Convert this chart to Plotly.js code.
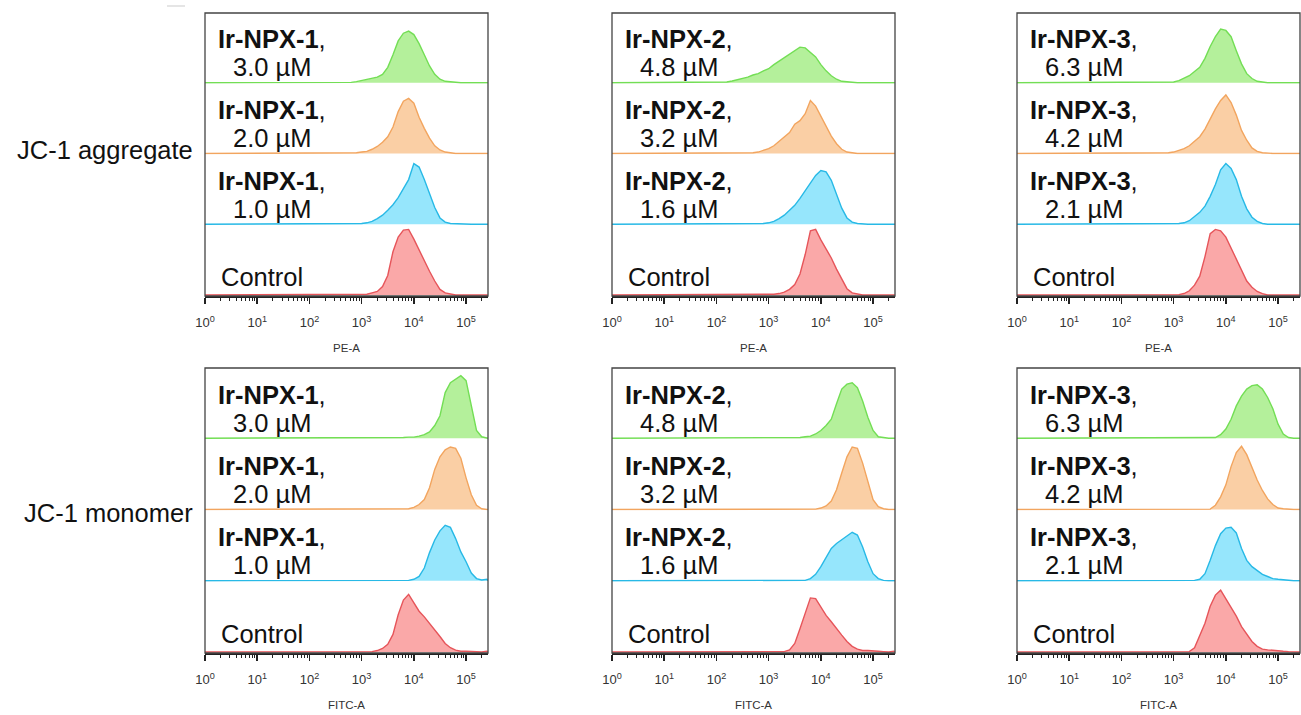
<!DOCTYPE html>
<html>
<head>
<meta charset="utf-8">
<script src="https://cdn.plot.ly/plotly-3.0.1.min.js"></script>
<style>html,body{margin:0;padding:0;background:#fff;}#chart{width:1301px;height:715px;}</style>
</head>
<body>
<div id="chart"></div>
<script>
// ---------- DATA ----------
// fluorescence intensity grid (a.u.)
const XS = [1,100,126,158,200,251,316,398,501,631,794,1000,1259,1585,1995,2512,3162,3981,5012,6310,7943,
  10000,12589,15849,19953,25119,31623,39811,50119,63096,79433,100000,125893,158489,199526,251189,262144];

const CHANNELS = ['PE-A', 'FITC-A'];
const ROW_LABELS = ['JC-1 aggregate', 'JC-1 monomer'];
const COMPOUNDS = ['Ir-NPX-1', 'Ir-NPX-2', 'Ir-NPX-3'];
const DOSES = [['3.0 µM', '2.0 µM', '1.0 µM'], ['4.8 µM', '3.2 µM', '1.6 µM'], ['6.3 µM', '4.2 µM', '2.1 µM']];
const CONTROL_LABEL = 'Control';
const TICK_VALS = [1, 10, 100, 1000, 10000, 100000];
const TICK_TEXT = ['10<sup>0</sup>', '10<sup>1</sup>', '10<sup>2</sup>', '10<sup>3</sup>', '10<sup>4</sup>', '10<sup>5</sup>'];

// counts, % of row height (JC-1 aggregate, PE-A)
const PE_NPX1_HIGH = [0, 0,0,0,0,0,0,0,0,0.5,1.5, 3,4,6,8,12,22,40,60,71,74, 69,56,40,24,12,5,2,1,0.5,0, 0,0,0,0,0, 0];
const PE_NPX1_MID  = [0, 0,0,0,0,0,0,0,0,0.5,1, 2,3,6,10,16,24,38,60,75,79, 72,52,36,22,11,5,2,0.5,0,0, 0,0,0,0,0, 0];
const PE_NPX1_LOW  = [0, 0,0,0,0,0,0,0,0,0,0.5, 1,2,4,8,13,20,28,38,50,64, 87,82,64,43,24,9,3,1,0.5,0, 0,0,0,0,0, 0];
const PE_NPX1_CTRL = [0, 0,0,0,0,0,0,0,0,0,0, 0.5,1,3,5,12,28,62,83,93,94, 80,64,49,34,20,8,3,1,0,0, 0,0,0,0,0, 0];

const PE_NPX2_HIGH = [0, 0,0,1,2.5,4,6,8,11,13,17, 20,26,31,36,42,46,51,50,44,37, 26,17,10,5,2,1,0.5,0,0,0, 0,0,0,0,0, 0];
const PE_NPX2_MID  = [0, 0,0,0,0,0,0,0.5,1,2,4, 7,11,17,23,30,42,47,57,76,68, 53,38,25,14,6,2,0.5,0,0,0, 0,0,0,0,0, 0];
const PE_NPX2_LOW  = [0, 0,0,0,0,0,0,0,0,0.5,1, 2,4,8,13,20,27,37,48,58,70, 77,75,63,43,23,9,3,1,0,0, 0,0,0,0,0, 0];
const PE_NPX2_CTRL = [0, 0,0,0,0,0,0,0,0,0,0, 0,1,2,4,8,15,30,58,92,94, 79,67,53,37,22,9,3,1,0,0, 0,0,0,0,0, 0];

const PE_NPX3_HIGH = [0, 0,0,0,0,0,0,0,0,0,0.5, 1,3,6,10,16,22,35,52,66,77, 75,66,46,27,13,6,2,0.5,0,0, 0,0,0,0,0, 0];
const PE_NPX3_MID  = [0, 0,0,0,0,0,0,0,0,0.5,1, 2,4,7,11,18,24,35,50,64,76, 84,73,55,33,19,8,3,1,0,0, 0,0,0,0,0, 0];
const PE_NPX3_LOW  = [0, 0,0,0,0,0,0,0,0,0,0, 0.5,1,2,5,11,17,26,40,57,78, 87,80,64,40,22,10,4,1,0,0, 0,0,0,0,0, 0];
const PE_NPX3_CTRL = [0, 0,0,0,0,0,0,0,0,0,0, 0,0.5,2,6,14,27,55,88,94,92, 83,67,51,34,20,11,5,2,0,0, 0,0,0,0,0, 0];

// counts, % of row height (JC-1 monomer, FITC-A)
const FITC_NPX1_HIGH = [0, 0,0,0,0,0,0,0,0,0,1, 1,1,0.5,0.5,0.5,0.5,1,1,1,1.5, 1.5,3,5,9,18,32,65,79,84,89, 82,46,11,2,0.5, 0];
const FITC_NPX1_MID  = [0, 0,0,0,0,0,0,0,0,0,0, 0,0,0,0,0,0,0,0,0.5,1, 3,7,14,31,57,75,85,89,87,73, 45,21,6,1,0, 0];
const FITC_NPX1_LOW  = [0, 0,0,0,0,0,0,0,0,0,0, 0,0,0,1,0.5,0,0,0,0,0.5, 2,6,18,40,58,71,79,76,60,41, 27,11,3,1,2, 0];
const FITC_NPX1_CTRL = [0, 0,0,0,0,0,0,0,0,0,0, 0,0,0.5,2,5,11,25,53,74,82, 70,58,50,41,32,22,12,6,2.5,1, 1,0.5,0,0,1, 0];

const FITC_NPX2_HIGH = [0, 0,0,0,0,0,0,1,1,0.5,0, 0,0,0,0,0,0.5,1,2,3,6, 11,18,27,49,70,77,79,72,53,30, 11,2,0.5,0,0, 0];
const FITC_NPX2_MID  = [0, 0,0,0,0,0,0,0,0,0,0, 0,0,0,0,0,0,0,0,0,0.5, 2,5,12,28,52,75,89,87,66,38, 14,4,1,0,0, 0];
const FITC_NPX2_LOW  = [0, 0,0,0,0,0,0,0,0,0,0, 0,0,0,0,0,0,0,0.5,3,9, 20,32,46,53,58,63,69,65,48,27, 10,3,0.5,0,0, 0];
const FITC_NPX2_CTRL = [0, 0,0,0,0,0,0,0,0,0,0, 0,0,0,0.5,3,12,33,55,77,76, 64,52,43,33,24,15,8,4,2,2, 1,1,0.5,0,1, 0];

const FITC_NPX3_HIGH = [0, 0,0,0,0,0,0,0,0,0,0, 1,1,1,1,1,0.5,0.5,0.5,1,5, 13,27,46,60,70,75,76,70,58,42, 20,6,1,0,0, 0];
const FITC_NPX3_MID  = [0, 0,0,0,0,0,0,0,0,0,0, 0,0,0,0,0,0,0,0.5,6,18, 35,61,81,90,78,59,42,27,15,7, 2,1,0,0,0, 0];
const FITC_NPX3_LOW  = [0, 0,0,0,0,0,0,0,0,0,0, 0,0,0,0,0.5,2,10,29,50,67, 75,76,68,46,29,20,14,9,6,3, 2,1,0,0,0, 0];
const FITC_NPX3_CTRL = [0, 0,0,0,0,0,0,0,0,0,0, 0,0,0,0.5,6,23,41,65,81,88, 76,62,51,36,25,15,8,4,3,2, 2,1,0.5,0,0, 0];

// ---------- STYLE ----------
const LINE_COLORS = ['rgb(115,222,85)', 'rgb(242,165,95)', 'rgb(40,185,230)', 'rgb(230,85,90)'];
const FILL_COLORS = ['rgb(180,240,155)', 'rgb(250,207,165)', 'rgb(150,230,252)', 'rgb(250,168,168)'];
const FONT = 'Liberation Sans, Arial, sans-serif';
const TEXT_SIZE = 25.5;

const W = 1301, H = 715;
const COL_LEFT = [205, 612, 1017];
const PANEL_W = 283;
const PANEL_TOP = [13, 368];
const PANEL_H = [283, 285];

const PANELS = [
  {band: 0, col: 0, series: [PE_NPX1_HIGH, PE_NPX1_MID, PE_NPX1_LOW, PE_NPX1_CTRL]},
  {band: 0, col: 1, series: [PE_NPX2_HIGH, PE_NPX2_MID, PE_NPX2_LOW, PE_NPX2_CTRL]},
  {band: 0, col: 2, series: [PE_NPX3_HIGH, PE_NPX3_MID, PE_NPX3_LOW, PE_NPX3_CTRL]},
  {band: 1, col: 0, series: [FITC_NPX1_HIGH, FITC_NPX1_MID, FITC_NPX1_LOW, FITC_NPX1_CTRL]},
  {band: 1, col: 1, series: [FITC_NPX2_HIGH, FITC_NPX2_MID, FITC_NPX2_LOW, FITC_NPX2_CTRL]},
  {band: 1, col: 2, series: [FITC_NPX3_HIGH, FITC_NPX3_MID, FITC_NPX3_LOW, FITC_NPX3_CTRL]}
];

const data = [];
const layout = {
  width: W, height: H,
  margin: {l: 0, r: 0, t: 0, b: 0},
  paper_bgcolor: '#fff', plot_bgcolor: 'rgba(0,0,0,0)',
  showlegend: false,
  font: {family: FONT, color: '#111'},
  annotations: [], shapes: []
};

PANELS.forEach((p, pi) => {
  const xId = pi + 1;
  const left = COL_LEFT[p.col], top = PANEL_TOP[p.band], ph = PANEL_H[p.band];
  const rowH = ph / 4;
  const bottomYId = pi * 4 + 4;
  layout['xaxis' + xId] = {
    domain: [left / W, (left + PANEL_W) / W],
    anchor: 'y' + bottomYId,
    type: 'log', range: [0, 5.42],
    tickmode: 'array', tickvals: TICK_VALS, ticktext: TICK_TEXT,
    ticks: 'outside', ticklen: 6, tickwidth: 1.6, tickcolor: '#222',
    minor: {dtick: 'D1', ticks: 'outside', ticklen: 3, tickwidth: 1, tickcolor: '#222', showgrid: false},
    showline: true, linecolor: '#222', linewidth: 1.5,
    showgrid: false, zeroline: false,
    tickfont: {family: FONT, size: 13, color: '#333'},
    ticklabelstandoff: 8,
    title: {text: CHANNELS[p.band], font: {family: FONT, size: 11.5, color: '#333'}, standoff: 15},
    fixedrange: true
  };
  for (let r = 0; r < 4; r++) {
    const yId = pi * 4 + r + 1;
    const rt = top + r * rowH, rb = rt + rowH;
    layout['yaxis' + yId] = {
      domain: [1 - rb / H, 1 - rt / H],
      anchor: 'x' + xId,
      range: [-1.5, 100], visible: false, fixedrange: true
    };
    data.push({
      type: 'scatter', mode: 'lines',
      x: XS, y: p.series[r],
      xaxis: 'x' + xId, yaxis: 'y' + yId,
      line: {color: LINE_COLORS[r], width: 1.4},
      fill: 'tozeroy', fillcolor: FILL_COLORS[r],
      hoverinfo: 'skip'
    });
    const xref = 'x' + xId + ' domain', yref = 'y' + yId + ' domain';
    if (r < 3) {
      layout.annotations.push({
        text: '<b>' + COMPOUNDS[p.col] + '</b>,',
        xref: xref, yref: yref, x: 0.235, y: 0.43, yshift: 14,
        xanchor: 'center', yanchor: 'middle',
        showarrow: false, font: {family: FONT, size: TEXT_SIZE, color: '#111'}
      });
      layout.annotations.push({
        text: DOSES[p.col][r],
        xref: xref, yref: yref, x: 0.235, y: 0.43, yshift: -14,
        xanchor: 'center', yanchor: 'middle',
        showarrow: false, font: {family: FONT, size: TEXT_SIZE, color: '#111'}
      });
    } else {
      layout.annotations.push({
        text: CONTROL_LABEL,
        xref: xref, yref: yref, x: 0.05, y: 0.27, xanchor: 'left', yanchor: 'middle',
        showarrow: false, font: {family: FONT, size: TEXT_SIZE, color: '#111'}
      });
    }
  }
  layout.shapes.push({
    type: 'rect', xref: 'paper', yref: 'paper',
    x0: left / W, x1: Math.min(left + PANEL_W, W - 0.5) / W,
    y0: 1 - (top + ph) / H, y1: 1 - top / H,
    line: {color: '#444', width: 1.3}, fillcolor: 'rgba(0,0,0,0)', layer: 'above'
  });
});

// band labels
[150, 513].forEach((yc, i) => {
  layout.annotations.push({
    text: ROW_LABELS[i], xref: 'paper', yref: 'paper',
    x: 195 / W, y: 1 - yc / H, xanchor: 'right', yanchor: 'middle',
    showarrow: false, font: {family: FONT, size: TEXT_SIZE, color: '#111'}
  });
});

// faint dash at top-left of the original figure
layout.shapes.push({type: 'line', xref: 'paper', yref: 'paper',
  x0: 167 / W, x1: 185 / W, y0: 1 - 6 / H, y1: 1 - 6 / H, line: {color: '#ddd', width: 1.5}});

Plotly.newPlot('chart', data, layout, {displayModeBar: false, staticPlot: true});
</script>
</body>
</html>
